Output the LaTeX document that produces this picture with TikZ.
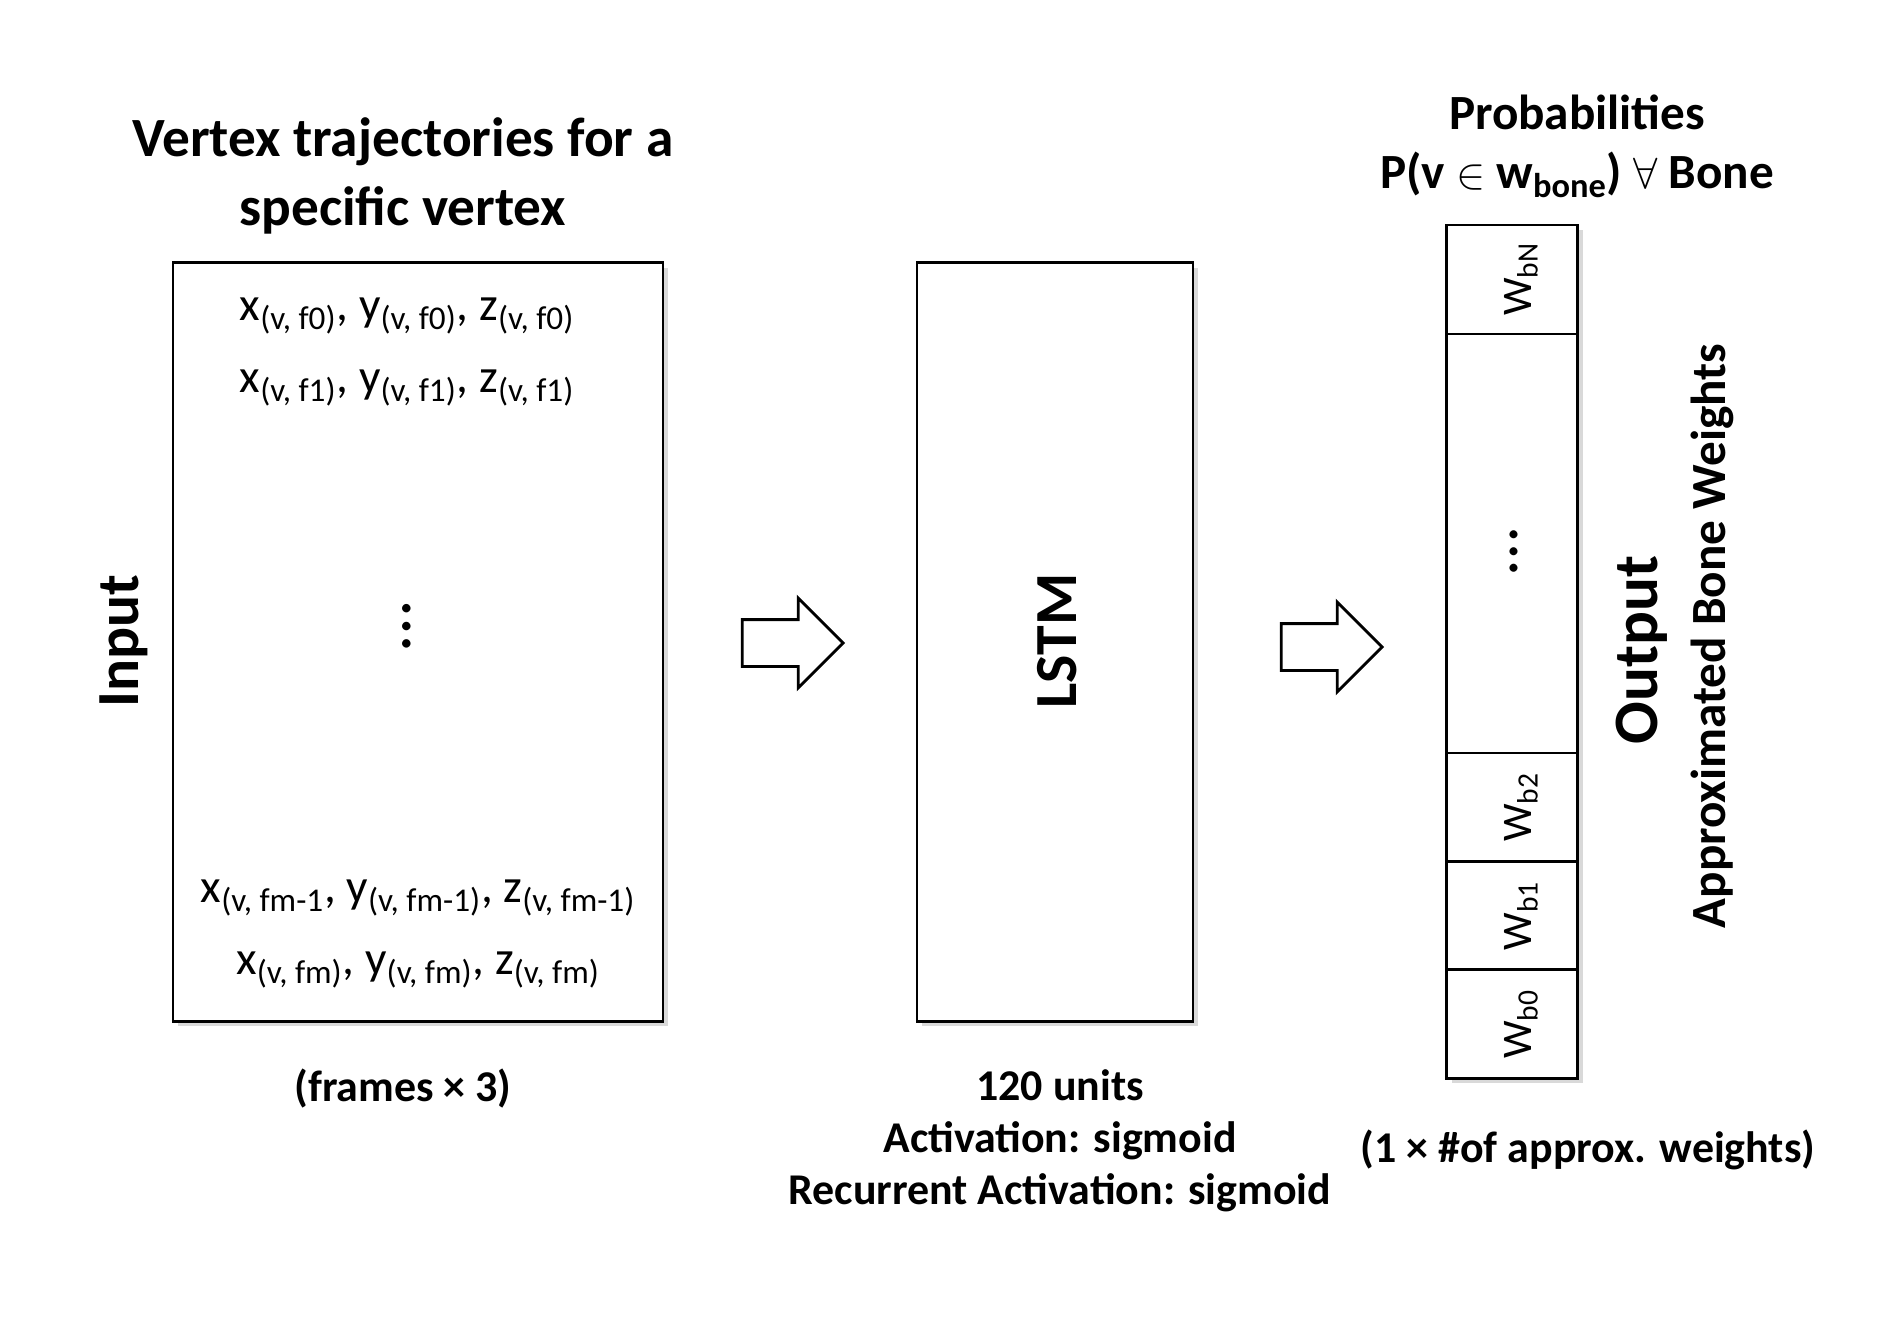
\documentclass[tikz,border=0pt]{standalone}
\usepackage{fontspec}
\setmainfont{Carlito}
\usetikzlibrary{positioning, shapes.arrows, shadows}

\begin{document}
\begin{tikzpicture}[
  x=0.02cm, y=-0.02cm,
  box/.style={draw, fill=white, line width=1.6pt,
    drop shadow={shadow xshift=0.1cm, shadow yshift=-0.1cm, opacity=0.3}},
  cell/.style={box, minimum width=2.62cm, minimum height=2.17cm,
    inner sep=0pt, outer sep=0pt},
  head/.style={font=\fontsize{31.5}{39}\selectfont\bfseries, align=center},
  note/.style={font=\fontsize{25}{29.6}\selectfont\bfseries, align=center},
  side/.style={font=\fontsize{34}{40}\selectfont\bfseries, rotate=90},
  entry/.style={font=\fontsize{27}{30}\selectfont},
  wlab/.style={font=\fontsize{24}{28}\selectfont, rotate=90},
  fat/.style={single arrow, draw, fill=white, line width=1.6pt,
    minimum height=2.02cm, inner xsep=0pt, inner ysep=0.44cm,
    single arrow head extend=0.43cm}
]
\useasboundingbox (0,0) rectangle (1889,1329);

% input block
\node[box, minimum width=9.8cm, minimum height=15.18cm] (inp) at (418,642) {};
\node[head] (title) at (403,176) {Vertex trajectories for a\\specific vertex};
\node[side] (inlab) at (124,641) {Input};
\node[entry] (r0) at (407,316) {x\textsubscript{(v, f0)}, y\textsubscript{(v, f0)}, z\textsubscript{(v, f0)}};
\node[entry] (r1) at (407,388) {x\textsubscript{(v, f1)}, y\textsubscript{(v, f1)}, z\textsubscript{(v, f1)}};
\node[entry, rotate=90, font=\fontsize{40}{40}\selectfont] (rdots) at (407,626) {\dots};
\node[entry] (r2) at (418,898) {x\textsubscript{(v, fm-1}, y\textsubscript{(v, fm-1)}, z\textsubscript{(v, fm-1)}};
\node[entry] (r3) at (418,970) {x\textsubscript{(v, fm)}, y\textsubscript{(v, fm)}, z\textsubscript{(v, fm)}};
\node[note] (frames) at (403,1089) {(frames × 3)};

% lstm block
\node[box, minimum width=5.52cm, minimum height=15.18cm] (lstm) at (1055,642) {};
\node[side] (lstmlab) at (1057,641) {LSTM};
\node[note] (units) at (1060,1141) {120 units\\Activation: sigmoid\\Recurrent Activation: sigmoid};

% output column, top to bottom
\node[cell, minimum height=2.18cm] (wbN) at (1512,279.5) {};
\node[cell, minimum height=8.38cm, below=0pt of wbN] (wmid) {};
\node[cell, below=0pt of wmid] (wb2) {};
\node[cell, below=0pt of wb2] (wb1) {};
\node[cell, below=0pt of wb1] (wb0) {};
\node[wlab] (lbN) at ([xshift=0.18cm]wbN.center) {W\textsubscript{bN}};
\node[wlab, font=\fontsize{38}{40}\selectfont] (ldots) at ([xshift=0.04cm, yshift=-0.16cm]wmid.center) {\dots};
\node[wlab] (lb2) at ([xshift=0.18cm]wb2.center) {W\textsubscript{b2}};
\node[wlab] (lb1) at ([xshift=0.18cm]wb1.center) {W\textsubscript{b1}};
\node[wlab] (lb0) at ([xshift=0.18cm]wb0.center) {W\textsubscript{b0}};
\node[head, font=\fontsize{28}{33.6}\selectfont\bfseries] (prob) at (1577,146)
  {Probabilities\\P(v $\in$ w\textsubscript{bone}) $\forall$ Bone};
\node[side, font=\fontsize{36}{40}\selectfont\bfseries] (outlab) at (1642,650) {Output};
\node[side, font=\fontsize{28}{32}\selectfont\bfseries] (approx) at (1712,636) {Approximated Bone Weights};
\node[note] (shape) at (1588,1150) {(1 × \#of approx. weights)};

% block arrows
\node[fat] (ar1) at (781,643) {};
\node[fat] (ar2) at (1320,647) {};
\end{tikzpicture}
\end{document}
